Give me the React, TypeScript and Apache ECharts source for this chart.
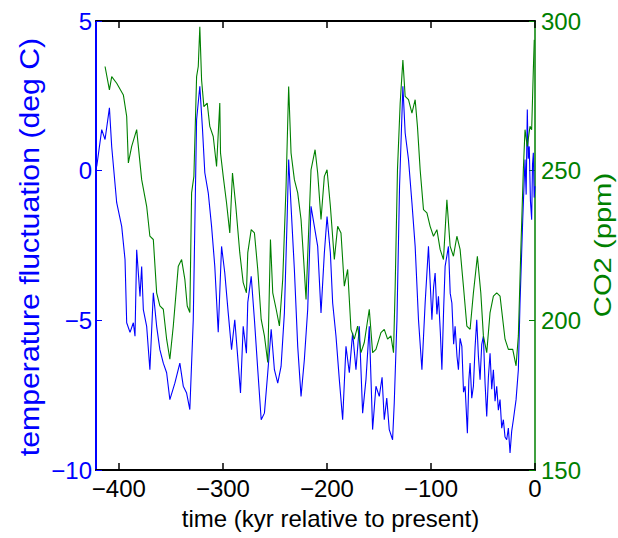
import React, { useEffect, useRef } from "react";
import * as echarts from "echarts";

// Temperature record (kyr relative to present, deg C)
const tempTime = [
  -421.3, -416.5, -413.3, -409.1, -406.9, -402.1, -397.3, -394.1, -392.5, -389.3,
  -386.1, -384.5, -382.9, -379.7, -378.1, -376.5, -373.3, -370.2, -366.9, -363.7,
  -360.6, -357.3, -354.1, -351.0, -346.2, -341.4, -338.1, -334.9, -331.8, -328.5,
  -325.3, -322.2, -319.6, -317.4, -314.1, -310.9, -307.8, -304.5, -301.3, -298.2,
  -294.9, -291.7, -288.6, -285.3, -283.1, -280.5, -277.4, -276.1, -272.8, -269.7,
  -266.5, -263.2, -260.1, -256.9, -253.6, -250.5, -247.3, -244.1, -240.9, -238.3,
  -236.8, -234.5, -231.3, -228.1, -224.9, -221.7, -218.5, -215.3, -212.1, -208.9,
  -205.7, -202.5, -199.9, -196.7, -194.5, -191.3, -188.1, -184.9, -181.7, -178.5,
  -175.3, -172.1, -168.9, -165.7, -162.5, -159.3, -156.1, -152.9, -149.7, -147.0,
  -144.9, -142.5, -140.1, -136.9, -135.3, -132.7, -130.2, -127.0, -124.8, -121.6,
  -118.3, -115.2, -112.0, -108.7, -105.6, -102.4, -99.1, -97.5, -96.0, -94.3,
  -92.8, -91.0, -89.5, -87.8, -86.4, -83.2, -81.5, -79.9, -78.2, -76.8,
  -75.0, -73.6, -72.0, -70.3, -68.7, -67.2, -65.0, -63.6, -62.4, -60.8,
  -59.2, -57.6, -56.0, -54.4, -52.8, -51.2, -49.6, -48.0, -46.4, -44.8,
  -43.2, -41.6, -40.0, -38.4, -36.8, -35.2, -33.6, -32.0, -30.4, -28.8,
  -27.2, -25.6, -24.0, -22.4, -20.8, -18.2, -16.0, -14.4, -11.8, -9.6,
  -8.5, -7.4, -6.5, -5.5, -4.4, -3.2, -2.4, -1.6, -0.8, 0,
];
const tempValue = [
  0.14, 1.37, 1.04, 2.1, 0.8, -1.07, -1.86, -2.97, -5.08, -5.4,
  -5.08, -5.53, -2.64, -4.2, -3.2, -4.64, -5.2, -6.65, -4.08, -5.2,
  -5.98, -6.43, -6.75, -7.65, -7.1, -6.43, -7.2, -7.43, -7.98, -4.98,
  1.7, 2.82, 1.37, -0.07, -0.74, -1.86, -3.2, -5.4, -2.53, -3.42,
  -4.75, -5.98, -4.98, -6.43, -7.43, -5.2, -6.1, -4.4, -3.53, -4.98,
  -6.65, -8.32, -8.1, -6.75, -5.3, -6.65, -7.1, -6.54, -4.75, -1.64,
  0.37, -1.19, -3.31, -5.87, -7.54, -6.31, -4.64, -1.19, -1.86, -2.53,
  -4.75, -2.75, -1.53, -2.75, -4.42, -5.53, -6.98, -8.32, -5.87, -6.75,
  -5.42, -6.65, -5.2, -8.1, -6.98, -5.2, -8.65, -7.2, -7.54, -6.9,
  -8.32, -7.6, -8.65, -8.99, -7.76, -4.98, -0.52, 2.82, 1.26, 0.37,
  -1.07, -2.53, -4.98, -6.65, -4.42, -2.53, -4.98, -3.9, -3.42, -4.8,
  -4.2, -5.4, -6.65, -4.6, -3.2, -2.53, -4.1, -4.42, -5.8, -5.2,
  -6.2, -6.65, -5.6, -5.87, -7.4, -7.2, -8.77, -7.0, -6.43, -7.6,
  -7.2, -5.9, -4.98, -6.2, -6.98, -5.8, -5.53, -7.1, -8.21, -6.9,
  -6.1, -7.3, -6.65, -7.7, -7.2, -8.0, -7.65, -8.6, -8.32, -8.9,
  -8.99, -8.6, -9.43, -8.7, -8.32, -7.65, -6.65, -4.42, -1.64, 0.37,
  -0.8, 2.04, 0.4, 0.81, -1.0, -1.64, 0.2, 0.6, -0.9, -0.52,
];

// CO2 record (kyr relative to present, ppm)
const co2Time = [
  -413.3, -409.1, -406.9, -402.1, -395.7, -392.5, -390.9, -387.7, -382.9, -381.3,
  -378.1, -373.3, -370.2, -366.9, -363.7, -360.6, -357.3, -354.1, -351.0, -347.7,
  -342.9, -339.7, -336.6, -334.3, -331.8, -330.1, -327.9, -325.3, -323.7, -322.2,
  -320.5, -318.3, -315.1, -312.6, -309.3, -306.1, -303.0, -302.3, -299.7, -296.5,
  -293.4, -290.8, -287.6, -283.8, -280.5, -277.4, -276.1, -272.8, -269.7, -266.5,
  -263.2, -260.1, -256.9, -254.3, -252.1, -248.8, -245.7, -242.5, -239.3, -236.8,
  -234.5, -231.3, -228.1, -224.9, -222.4, -220.1, -216.9, -215.3, -211.4, -208.9,
  -205.7, -202.5, -199.9, -196.7, -192.9, -189.7, -186.5, -183.3, -180.1, -176.9,
  -173.7, -170.5, -167.3, -164.1, -159.3, -156.1, -152.9, -148.1, -144.9, -141.7,
  -138.5, -136.0, -134.4, -132.2, -129.6, -127.0, -124.8, -121.6, -118.3, -115.2,
  -113.0, -110.4, -107.2, -103.9, -100.8, -97.6, -94.3, -91.2, -88.0, -84.7,
  -81.6, -78.4, -75.1, -72.0, -68.8, -65.5, -62.4, -59.2, -55.4, -52.1,
  -49.6, -46.4, -43.2, -40.0, -36.8, -33.6, -28.8, -25.6, -21.4, -18.2,
  -16.0, -13.7, -11.2, -9.6, -7.4, -4.8, -3.2, -1.6, -0.7,
];
const co2Value = [
  284.8, 277, 281.4, 279.2, 275.3, 268.1, 252.6, 258.1, 263.7, 258.1,
  247, 238.1, 228.1, 227, 209.2, 204.8, 203.7, 193.7, 187, 198.1,
  218.1, 220.3, 213.7, 204.8, 202.6, 242.6, 248.1, 281.4, 284.8, 298.1,
  280.3, 271.4, 272.6, 264.8, 261.4, 251.4, 272.6, 255.9, 248.1, 239.2,
  229.2, 249.2, 238.1, 222.6, 212.6, 209.2, 222.6, 230.3, 229.2, 217,
  200.3, 194.8, 185.9, 227, 209.2, 203.7, 198.1, 213.7, 244.8, 278.1,
  255.9, 247, 242.6, 233.7, 220.3, 207, 235.9, 250.3, 257, 249.2,
  233.7, 248.1, 250.3, 238.1, 220.3, 231.4, 229.2, 211.4, 217, 197,
  193.7, 198.1, 189.2, 192.6, 203.7, 189.2, 190.3, 195.9, 197, 193.7,
  194.8, 189.2, 211.4, 250.3, 272.6, 287, 274.8, 273.7, 269.2, 273.7,
  264.8, 250.3, 237, 235.9, 231.4, 228.1, 230.3, 223.7, 220.3, 240.3,
  224.8, 221.4, 228.1, 223.7, 211.4, 198.1, 197, 209.2, 221.4, 209.2,
  194.8, 189.2, 202.6, 208.1, 209.2, 208.1, 193.7, 190.3, 190.3, 184.8,
  194.8, 222.6, 250.3, 263.7, 258.1, 264.8, 263.7, 283.7, 293.7,
];

const xTicks = [-400, -300, -200, -100, 0];
const tempTicks = [-10, -5, 0, 5];
const co2Ticks = [150, 200, 250, 300];

const FONT = "'Liberation Sans', Arial, Helvetica, sans-serif";
const BLUE = "#0000ff";
const GREEN = "#008000";

const fmt = (v: number) => (v < 0 ? "\u2212" + Math.abs(v) : String(v));

export default function App() {
  const ref = useRef<HTMLDivElement>(null);

  useEffect(() => {
    if (!ref.current) return;
    const chart = echarts.init(ref.current, undefined, { renderer: "svg" });
    const tempData = tempTime.map((t, i) => [t, tempValue[i]]);
    const co2Data = co2Time.map((t, i) => [t, co2Value[i]]);

    const xCommon = {
      type: "value" as const,
      min: -422,
      max: 0,
      splitLine: { show: false },
      axisLine: { show: true, onZero: false, lineStyle: { color: "#000", width: 2 } },
      axisTick: {
        show: true,
        inside: true,
        length: 7,
        customValues: xTicks,
        lineStyle: { color: "#000", width: 1.5 },
      },
    };

    chart.setOption({
      animation: false,
      backgroundColor: "#ffffff",
      textStyle: { fontFamily: FONT },
      grid: { left: 96, top: 21, width: 439, height: 449, outerBoundsMode: "none" },
      graphic: [
        {
          type: "text",
          x: 30,
          y: 247,
          rotation: Math.PI / 2,
          scaleX: 1.12,
          silent: true,
          style: {
            text: "temperature fluctuation (deg C)",
            fontSize: 27,
            fontFamily: FONT,
            fill: BLUE,
            textAlign: "center",
            textVerticalAlign: "middle",
          },
        },
        {
          type: "text",
          x: 603,
          y: 245,
          rotation: Math.PI / 2,
          scaleX: 1.27,
          silent: true,
          style: {
            text: "CO2 (ppm)",
            fontSize: 23,
            fontFamily: FONT,
            fill: GREEN,
            textAlign: "center",
            textVerticalAlign: "middle",
          },
        },
      ],
      xAxis: [
        {
          ...xCommon,
          position: "bottom",
          axisLabel: {
            customValues: xTicks,
            formatter: fmt,
            color: "#000",
            fontSize: 24,
            fontFamily: FONT,
            margin: 6,
          },
          name: "time (kyr relative to present)",
          nameLocation: "middle",
          nameGap: 36,
          nameTextStyle: { color: "#000", fontSize: 24, fontFamily: FONT, padding: [0, 0, 0, 30] },
        },
        {
          ...xCommon,
          position: "top",
          axisLabel: { show: false },
        },
      ],
      yAxis: [
        {
          type: "value",
          min: -10,
          max: 5,
          interval: 5,
          position: "left",
          splitLine: { show: false },
          axisLine: { show: true, onZero: false, lineStyle: { color: BLUE, width: 2 } },
          axisTick: { show: true, inside: true, length: 6, lineStyle: { color: BLUE } },
          axisLabel: { color: BLUE, fontSize: 24, fontFamily: FONT, margin: 4, formatter: fmt, customValues: tempTicks },
        },
        {
          type: "value",
          min: 150,
          max: 300,
          interval: 50,
          position: "right",
          splitLine: { show: false },
          axisLine: { show: true, onZero: false, lineStyle: { color: GREEN, width: 1.5 } },
          axisTick: { show: true, inside: true, length: 6, lineStyle: { color: GREEN } },
          axisLabel: { color: GREEN, fontSize: 24, fontFamily: FONT, margin: 6, formatter: fmt, customValues: co2Ticks },
        },
      ],
      series: [
        {
          type: "line",
          xAxisIndex: 0,
          yAxisIndex: 0,
          data: tempData,
          showSymbol: false,
          silent: true,
          lineStyle: { color: BLUE, width: 1.1 },
          itemStyle: { color: BLUE },
        },
        {
          type: "line",
          xAxisIndex: 0,
          yAxisIndex: 1,
          data: co2Data,
          showSymbol: false,
          silent: true,
          lineStyle: { color: GREEN, width: 1.1 },
          itemStyle: { color: GREEN },
        },
      ],
    });

    return () => chart.dispose();
  }, []);

  return (
    <div
      ref={ref}
      style={{ position: "fixed", left: 0, top: 0, width: 618, height: 538, background: "#fff" }}
    />
  );
}
